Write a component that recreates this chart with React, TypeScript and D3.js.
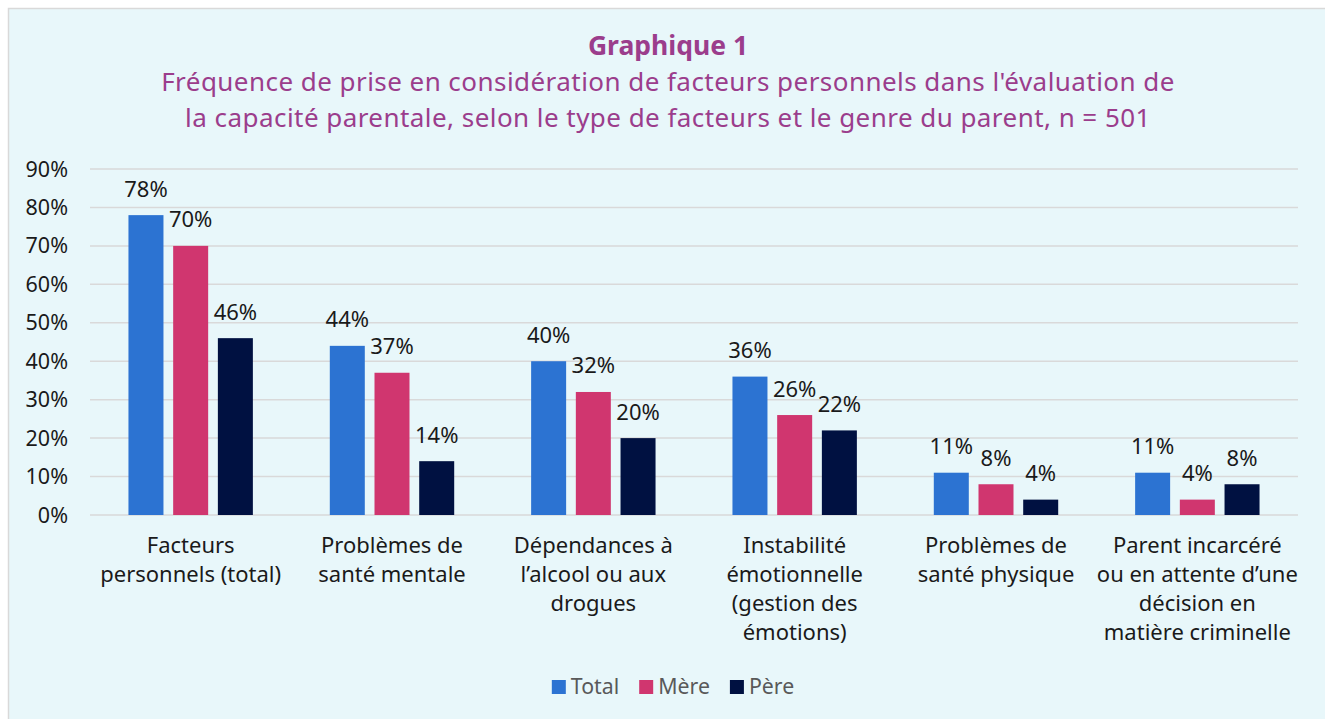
import React, { useEffect, useRef } from "react";
import * as d3 from "d3";

const categories: string[][] = [
  ["Facteurs", "personnels (total)"],
  ["Problèmes de", "santé mentale"],
  ["Dépendances à", "l’alcool ou aux", "drogues"],
  ["Instabilité", "émotionnelle", "(gestion des", "émotions)"],
  ["Problèmes de", "santé physique"],
  ["Parent incarcéré", "ou en attente d’une", "décision en", "matière criminelle"],
];
const seriesNames = ["Total", "Mère", "Père"];
const totalValues = [78, 44, 40, 36, 11, 11];
const mereValues = [70, 37, 32, 26, 8, 4];
const pereValues = [46, 14, 20, 22, 4, 8];
const yTicks = [0, 10, 20, 30, 40, 50, 60, 70, 80, 90];
const titleText = "Graphique 1";
const subtitleLines = [
  "Fréquence de prise en considération de facteurs personnels dans l'évaluation de",
  "la capacité parentale, selon le type de facteurs et le genre du parent, n = 501",
];

const colors = ["#2C73D2", "#D0366F", "#001141"];
const FONT = "'Noto Sans', sans-serif";

export default function App() {
  const ref = useRef<SVGSVGElement>(null);
  useEffect(() => {
    const svg = d3.select(ref.current);
    svg.selectAll("*").remove();
    const W = 1325, H = 719;
    svg.append("rect").attr("x", 8.5).attr("y", 8.5).attr("width", W).attr("height", H)
      .attr("fill", "#E8F7FA").attr("stroke", "#D9D9D9").attr("stroke-width", 1.5);

    const titleColor = "#9B3D8C";
    svg.append("text").attr("x", 668).attr("y", 55).attr("text-anchor", "middle")
      .attr("font-family", FONT).attr("font-size", 26.5).attr("font-weight", 700)
      .attr("fill", titleColor).text(titleText);
    subtitleLines.forEach((l, i) => {
      svg.append("text").attr("x", 668).attr("y", 91 + i * 35.5).attr("text-anchor", "middle")
        .attr("font-family", FONT).attr("font-size", 26).attr("letter-spacing", 0.45)
        .attr("fill", titleColor).text(l);
    });

    const x0 = 90, x1 = 1298;
    const y = d3.scaleLinear().domain([0, 90]).range([515, 169]);
    const xb = d3.scaleBand<number>().domain(d3.range(categories.length)).range([x0, x1]).padding(0);
    const inner = d3.scaleBand<number>().domain([0, 1, 2]).range([-62.2, 62.2]).paddingInner(0.217).paddingOuter(0);

    const g = svg.append("g");
    yTicks.forEach((t) => {
      g.append("line").attr("x1", x0).attr("x2", x1).attr("y1", y(t)).attr("y2", y(t))
        .attr("stroke", "#D9D9D9").attr("stroke-width", 1.5);
      g.append("text").attr("x", 68).attr("y", y(t)).attr("dy", "0.35em").attr("text-anchor", "end")
        .attr("font-family", FONT).attr("font-size", 21.5).attr("fill", "#1a1a1a").text(`${t}%`);
    });

    const series = [totalValues, mereValues, pereValues];
    series.forEach((vals, si) => {
      vals.forEach((v, ci) => {
        const cx = xb(ci)! + xb.bandwidth() / 2;
        const bx = cx + inner(si)!;
        const bw = inner.bandwidth();
        g.append("rect").attr("x", bx).attr("y", y(v)).attr("width", bw).attr("height", y(0) - y(v))
          .attr("fill", colors[si]);
        g.append("text").attr("x", bx + bw / 2).attr("y", y(v) - 18.5).attr("text-anchor", "middle")
          .attr("font-family", FONT).attr("font-size", 22).attr("fill", "#1a1a1a").text(`${v}%`);
      });
    });

    categories.forEach((lines, ci) => {
      const cx = xb(ci)! + xb.bandwidth() / 2;
      lines.forEach((l, li) => {
        g.append("text").attr("x", cx).attr("y", 553 + li * 29).attr("text-anchor", "middle")
          .attr("font-family", FONT).attr("font-size", 22).attr("fill", "#1a1a1a").text(l);
      });
    });

    // legend
    const lg = svg.append("g");
    let lx = 0;
    const items: { x: number; name: string; c: string }[] = [];
    seriesNames.forEach((n, i) => {
      const t = lg.append("text").attr("font-family", FONT).attr("font-size", 21.3).attr("fill", "#595959")
        .attr("y", 693).text(n);
      const tw = (t.node() as SVGTextElement).getComputedTextLength();
      t.remove();
      items.push({ x: lx, name: n, c: colors[i] });
      lx += 14 + 5 + tw + (i < seriesNames.length - 1 ? 20 : 0);
    });
    const start = 673 - lx / 2;
    items.forEach((it) => {
      lg.append("rect").attr("x", start + it.x).attr("y", 680).attr("width", 14).attr("height", 14).attr("fill", it.c);
      lg.append("text").attr("x", start + it.x + 19).attr("y", 694).attr("font-family", FONT)
        .attr("font-size", 21.3).attr("fill", "#595959").text(it.name);
    });
  }, []);
  return (
    <svg ref={ref} width={1325} height={719}
      style={{ position: "absolute", left: 0, top: 0, display: "block" }} />
  );
}
